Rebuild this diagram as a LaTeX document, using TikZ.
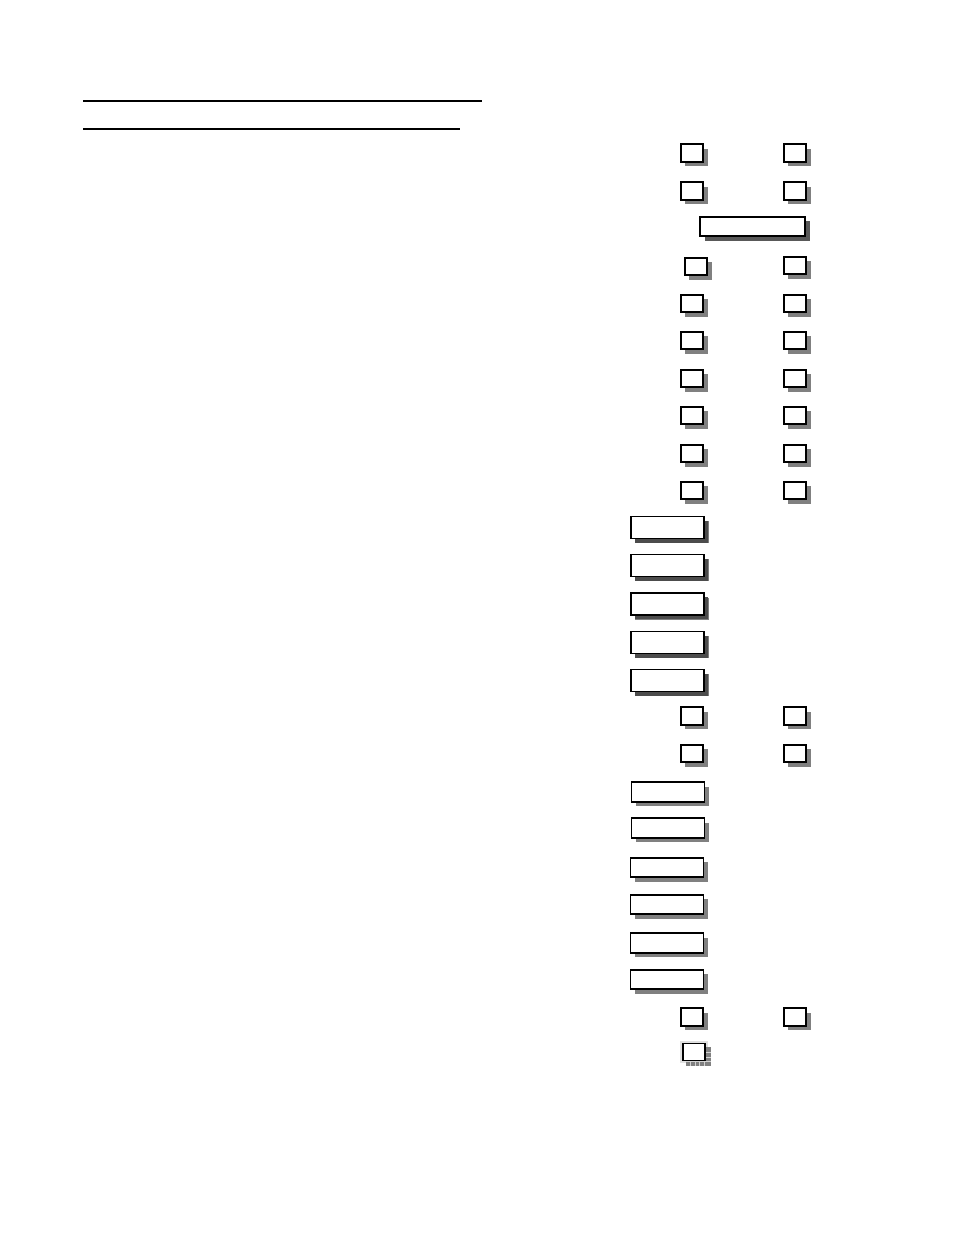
\documentclass[tikz,border=0pt]{standalone}
\usetikzlibrary{shadows}

\begin{document}
\begin{tikzpicture}[x=1pt, y=-1pt,
    tickbox/.style={draw, line width=1.7pt, fill=white, inner sep=0pt,
        minimum width=22.5pt, minimum height=17.5pt,
        drop shadow={shadow xshift=4.5pt, shadow yshift=-4.5pt, fill=gray, opacity=1}},
    fieldbox/.style={tickbox, minimum width=73pt, minimum height=19.5pt},
    darkbox/.style={tickbox, minimum width=73.5pt, minimum height=22pt,
        drop shadow={shadow xshift=4pt, shadow yshift=-4pt, fill=black!70, opacity=1}}]
    \useasboundingbox (0,0) rectangle (954,1235);

    % heading rules
    \coordinate (H1a) at (83,101);
    \coordinate (H1b) at (482,101);
    \coordinate (H2a) at (83,129);
    \coordinate (H2b) at (460,129);
    \draw[line width=2.3pt] (H1a) -- (H1b);
    \draw[line width=2.3pt] (H2a) -- (H2b);

    % pairs of tick boxes
    \foreach \row/\yy in {1/153, 2/191, 5/303.5, 6/340.5, 7/378.5, 8/415.5,
                          9/453.5, 10/490.5, 16/716, 17/753.5, 24/1017} {
        \node[tickbox] (L\row) at (692,\yy) {};
        \node[tickbox] (R\row) at (795,\yy) {};
    }
    \node[tickbox] (L4) at (696,266.5) {};
    \node[tickbox] (R4) at (795,265.5) {};

    % long field
    \node[tickbox, line width=2.2pt, minimum width=105pt, minimum height=19.5pt,
        drop shadow={shadow xshift=4.5pt, shadow yshift=-4.5pt, fill=black!65, opacity=1}]
        (F3) at (752.5,226.5) {};

    % dark-shadow fields
    \foreach \row/\yy in {11/527.5, 12/565.5, 13/604, 14/642.5, 15/680.5} {
        \node[darkbox] (F\row) at (667.5,\yy) {};
    }

    % plain fields
    \foreach \row/\yy/\xx in {18/792/668, 19/828/668, 20/867.5/667, 21/904.5/667,
                              22/943/667, 23/979.5/667} {
        \node[fieldbox] (F\row) at (\xx,\yy) {};
    }

    % last box with a chequered shadow
    \fill[gray!25] (680,1041) rectangle (708,1063);
    \fill[gray] (686,1047) rectangle (710.5,1066);
    \foreach \gx in {690.5, 695, 699.5, 704.5}
        \draw[gray!35, line width=0.7pt] (\gx,1047) -- (\gx,1066);
    \foreach \gy in {1052, 1057, 1061.5}
        \draw[gray!35, line width=0.7pt] (686,\gy) -- (710.5,\gy);
    \node[draw, line width=1.7pt, fill=white, inner sep=0pt,
        minimum width=22.5pt, minimum height=17pt] (L25) at (694,1052) {};
\end{tikzpicture}
\end{document}
